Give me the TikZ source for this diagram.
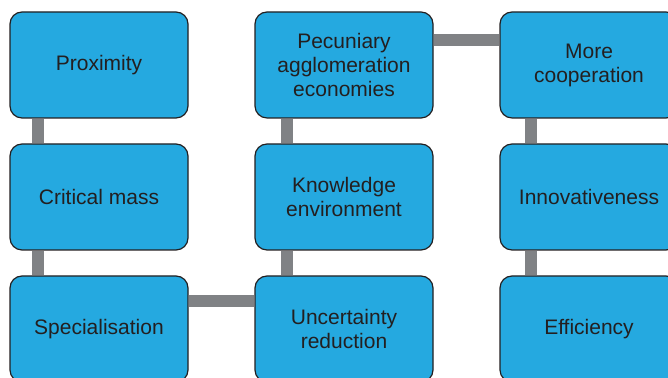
\documentclass[tikz,border=0pt]{standalone}
\usepackage{fontspec}
\setmainfont{Liberation Sans}
\definecolor{boxblue}{HTML}{25A9E0}
\definecolor{linkgray}{HTML}{808285}
\definecolor{textgray}{HTML}{231F20}

\begin{document}
\begin{tikzpicture}[x=0.5pt,y=0.5pt,
    box/.style={draw=textgray,line width=0.6pt,fill=boxblue,rounded corners=6pt,
        minimum width=89pt,minimum height=53pt,align=center,text=textgray,
        font=\fontsize{10.5}{12}\selectfont},
    link/.style={linkgray,line width=6pt}]
    \useasboundingbox (0,0) rectangle (668,378);
    \node[box] (prox) at (99,313) {Proximity};
    \node[box] (crit) at (99,181) {Critical mass};
    \node[box] (spec) at (99,49) {Specialisation};
    \node[box] (pecu) at (344,313) {Pecuniary\\agglomeration\\economies};
    \node[box] (know) at (344,181) {Knowledge\\environment};
    \node[box] (unce) at (344,49) {Uncertainty\\reduction};
    \node[box] (coop) at (589,313) {More\\cooperation};
    \node[box] (inno) at (589,181) {Innovativeness};
    \node[box] (effi) at (589,49) {Efficiency};
    \draw[link] ([xshift=-30.5pt]prox.south) -- ([xshift=-30.5pt]crit.north);
    \draw[link] ([xshift=-30.5pt]crit.south) -- ([xshift=-30.5pt]spec.north);
    \draw[link] ([yshift=14pt]spec.east) -- ([yshift=14pt]unce.west);
    \draw[link] ([xshift=-28.5pt]unce.north) -- ([xshift=-28.5pt]know.south);
    \draw[link] ([xshift=-28.5pt]know.north) -- ([xshift=-28.5pt]pecu.south);
    \draw[link] ([yshift=12.5pt]pecu.east) -- ([yshift=12.5pt]coop.west);
    \draw[link] ([xshift=-29pt]coop.south) -- ([xshift=-29pt]inno.north);
    \draw[link] ([xshift=-29pt]inno.south) -- ([xshift=-29pt]effi.north);
\end{tikzpicture}
\end{document}
